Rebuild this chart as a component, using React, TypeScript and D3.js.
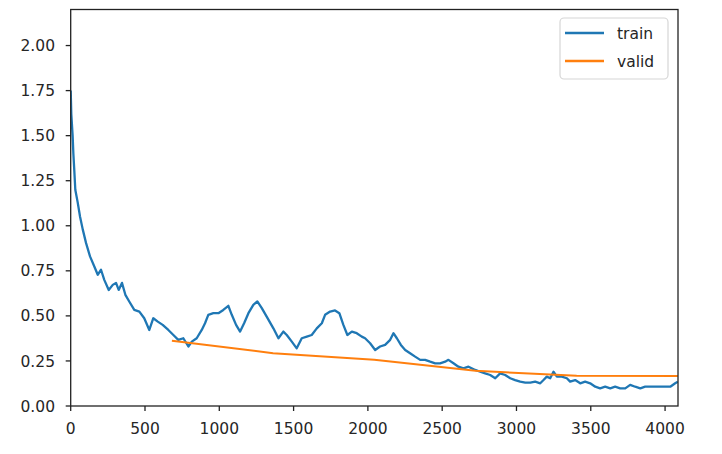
import React from "react";
import * as d3 from "d3";

const trainIter = [0, 4, 13, 18, 24, 31, 47, 63, 81, 103, 130, 159, 182, 204, 226, 256, 283, 305, 323, 345, 368, 394, 428, 462, 495, 529, 556, 586, 619, 657, 691, 724, 758, 792, 815, 848, 882, 904, 926, 960, 994, 1027, 1061, 1084, 1113, 1140, 1167, 1196, 1229, 1256, 1286, 1319, 1364, 1398, 1431, 1454, 1488, 1521, 1555, 1589, 1622, 1656, 1690, 1712, 1746, 1779, 1808, 1835, 1862, 1892, 1925, 1959, 1981, 2015, 2049, 2082, 2116, 2150, 2172, 2195, 2222, 2251, 2284, 2318, 2352, 2385, 2419, 2453, 2486, 2520, 2542, 2576, 2609, 2643, 2677, 2722, 2756, 2789, 2823, 2857, 2890, 2924, 2958, 2991, 3025, 3059, 3093, 3126, 3160, 3182, 3204, 3227, 3249, 3272, 3305, 3339, 3361, 3395, 3429, 3462, 3496, 3530, 3563, 3597, 3631, 3664, 3698, 3732, 3765, 3799, 3833, 3866, 3900, 3934, 3967, 4001, 4035, 4068, 4086];
const trainLoss = [1.75, 1.62, 1.5, 1.4, 1.31, 1.2, 1.13, 1.05, 0.98, 0.905, 0.83, 0.774, 0.728, 0.756, 0.7, 0.644, 0.672, 0.683, 0.644, 0.683, 0.617, 0.58, 0.533, 0.524, 0.487, 0.422, 0.487, 0.468, 0.45, 0.422, 0.394, 0.367, 0.376, 0.33, 0.357, 0.376, 0.422, 0.459, 0.506, 0.515, 0.515, 0.533, 0.556, 0.506, 0.45, 0.413, 0.459, 0.515, 0.561, 0.58, 0.543, 0.496, 0.431, 0.376, 0.413, 0.394, 0.357, 0.32, 0.376, 0.385, 0.394, 0.431, 0.459, 0.506, 0.524, 0.53, 0.515, 0.45, 0.394, 0.413, 0.404, 0.385, 0.376, 0.348, 0.311, 0.33, 0.339, 0.367, 0.404, 0.376, 0.339, 0.311, 0.293, 0.274, 0.256, 0.256, 0.246, 0.237, 0.237, 0.246, 0.256, 0.237, 0.218, 0.209, 0.218, 0.2, 0.19, 0.181, 0.172, 0.154, 0.181, 0.172, 0.154, 0.144, 0.135, 0.13, 0.13, 0.135, 0.126, 0.144, 0.163, 0.154, 0.19, 0.163, 0.163, 0.154, 0.135, 0.144, 0.126, 0.135, 0.126, 0.107, 0.098, 0.107, 0.098, 0.107, 0.098, 0.098, 0.117, 0.107, 0.098, 0.107, 0.107, 0.107, 0.107, 0.107, 0.107, 0.126, 0.135];

const validIter = [681, 1362, 2043, 2724, 3405, 4086];
const validLoss = [0.362, 0.293, 0.257, 0.195, 0.168, 0.167];

const xTicks = [0, 500, 1000, 1500, 2000, 2500, 3000, 3500, 4000];
const yTicks = [0, 0.25, 0.5, 0.75, 1.0, 1.25, 1.5, 1.75, 2.0];
const seriesNames = ["train", "valid"];
const seriesColors = ["#1f77b4", "#ff7f0e"];

const W = 722, H = 454;
const L = 70.7, R = 678, T = 9.5, B = 406;
const FONT = "'DejaVu Sans', sans-serif";
const FS = 15.5;

export default function App() {
  const x = d3.scaleLinear().domain([0, 4087]).range([L, R]);
  const y = d3.scaleLinear().domain([0, 2.2]).range([B, T]);
  const train = trainIter.map((it, i) => [it, trainLoss[i]] as [number, number]);
  const valid = validIter.map((it, i) => [it, validLoss[i]] as [number, number]);
  const line = d3.line<[number, number]>().x(d => x(d[0])).y(d => y(d[1]));

  return (
    <svg width={W} height={H} style={{ position: "absolute", left: 0, top: 0, display: "block", background: "#fff" }}>
      <defs>
        <clipPath id="plotclip">
          <rect x={L} y={T} width={R - L} height={B - T} />
        </clipPath>
      </defs>
      <rect x={0} y={0} width={W} height={H} fill="#fff" />
      <g clipPath="url(#plotclip)">
        <path d={line(train) || ""} fill="none" stroke={seriesColors[0]} strokeWidth={2.3} strokeLinejoin="round" />
        <path d={line(valid) || ""} fill="none" stroke={seriesColors[1]} strokeWidth={2} />
      </g>
      <rect x={L} y={T} width={R - L} height={B - T} fill="none" stroke="#222" strokeWidth={1.3} />
      {xTicks.map(t => (
        <g key={"x" + t}>
          <line x1={x(t)} x2={x(t)} y1={B} y2={B + 5} stroke="#222" strokeWidth={1.3} />
          <text x={x(t)} y={B + 27.5} textAnchor="middle" fontFamily={FONT} fontSize={FS} fill="#262626">{t}</text>
        </g>
      ))}
      {yTicks.map(t => (
        <g key={"y" + t}>
          <line x1={L - 5} x2={L} y1={y(t)} y2={y(t)} stroke="#222" strokeWidth={1.3} />
          <text x={55} y={y(t)} dy="0.36em" textAnchor="end" fontFamily={FONT} fontSize={FS} fill="#262626">{t.toFixed(2)}</text>
        </g>
      ))}
      <g>
        <rect x={560} y={18} width={108} height={61} rx={4} fill="#fff" fillOpacity={0.8} stroke="#d6d6d6" strokeWidth={1.2} />
        {seriesNames.map((n, i) => (
          <g key={n}>
            <line x1={565} x2={604} y1={33 + i * 28} y2={33 + i * 28} stroke={seriesColors[i]} strokeWidth={2.3} />
            <text x={617} y={33 + i * 28} dy="0.36em" fontFamily={FONT} fontSize={FS} fill="#262626">{n}</text>
          </g>
        ))}
      </g>
    </svg>
  );
}
